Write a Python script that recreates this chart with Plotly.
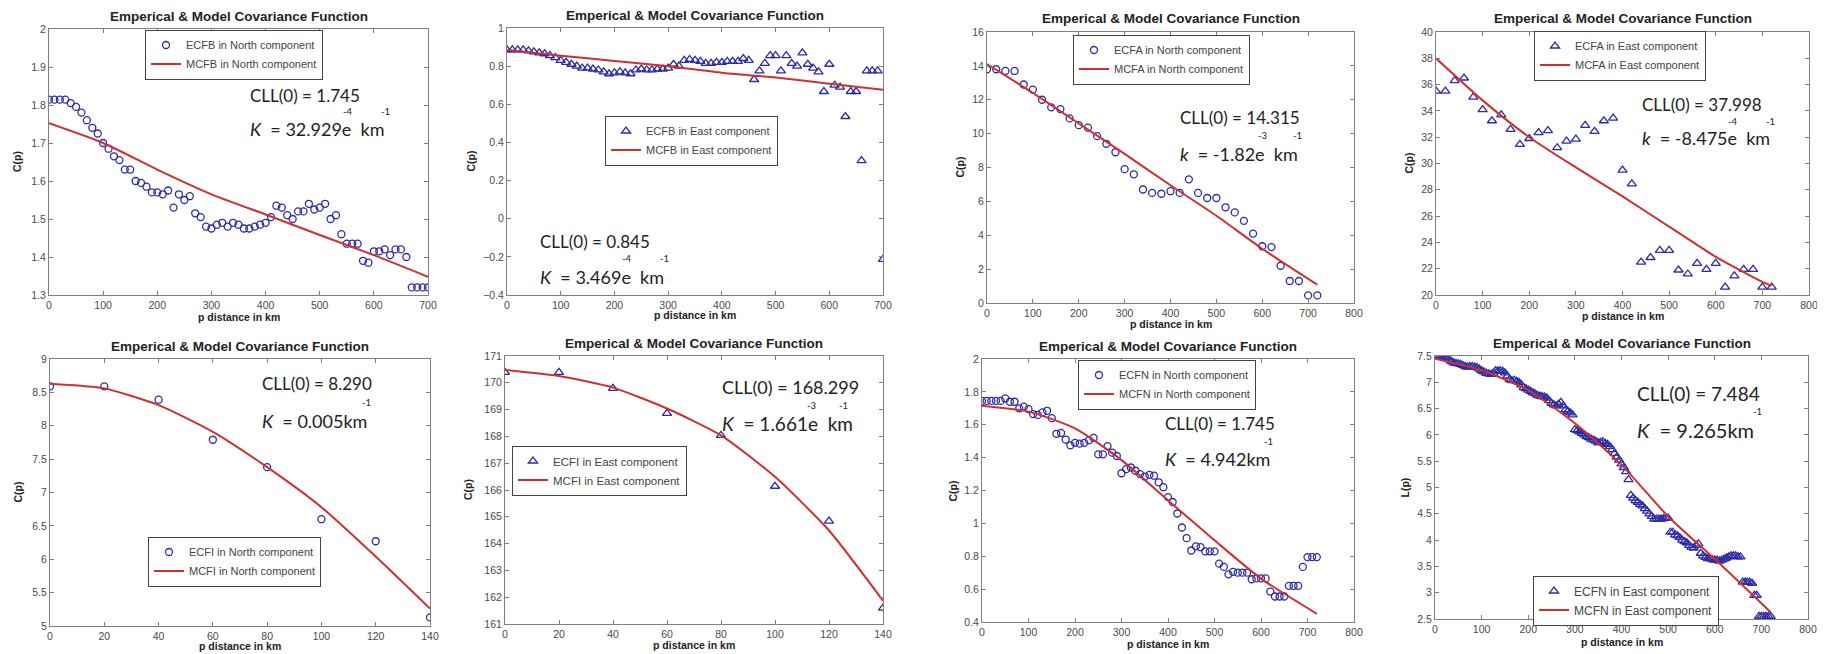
import plotly.graph_objects as go

# page body keeps its default 8px margin: the figure starts at (8, 8) and fills the rest of the view
REF_W, REF_H, BODY = 1825, 654, 8
W, H = REF_W - BODY, REF_H - BODY

# ---------------- data ----------------
# Panel 1: ECFB North
p1_x = list(range(0, 701, 10))
p1_emp = [1.814, 1.814, 1.814, 1.814, 1.805, 1.795, 1.78, 1.76, 1.74, 1.725,
          1.70, 1.685, 1.665, 1.655, 1.63, 1.63, 1.60, 1.595, 1.585, 1.57,
          1.57, 1.565, 1.575, 1.53, 1.565, 1.55, 1.56, 1.515, 1.505, 1.48,
          1.475, 1.485, 1.49, 1.48, 1.49, 1.485, 1.475, 1.475, 1.48, 1.485,
          1.49, 1.505, 1.535, 1.53, 1.51, 1.50, 1.52, 1.52, 1.54, 1.525,
          1.53, 1.54, 1.50, 1.51, 1.46, 1.435, 1.435, 1.435, 1.39, 1.385,
          1.415, 1.415, 1.42, 1.405, 1.42, 1.42, 1.40, 1.32, 1.32, 1.32, 1.32]
p1_mx = [0, 100, 200, 300, 400, 500, 600, 700]
p1_model = [1.752, 1.700, 1.630, 1.565, 1.512, 1.458, 1.405, 1.348]

# Panel 2: ECFB East
p2_x = list(range(0, 701, 10))
p2_emp = [0.885, 0.885, 0.885, 0.885, 0.88, 0.875, 0.87, 0.865, 0.855, 0.845,
          0.83, 0.82, 0.81, 0.80, 0.79, 0.79, 0.785, 0.78, 0.77, 0.76,
          0.765, 0.77, 0.765, 0.76, 0.78, 0.785, 0.78, 0.78, 0.785, 0.785,
          0.79, 0.81, 0.80, 0.83, 0.835, 0.83, 0.825, 0.815, 0.815, 0.82,
          0.82, 0.825, 0.825, 0.825, 0.84, 0.83, 0.73, 0.775, 0.815, 0.855,
          0.855, 0.775, 0.855, 0.815, 0.80, 0.87, 0.81, 0.79, 0.77, 0.667,
          0.81, 0.70, 0.69, 0.536, 0.667, 0.667, 0.305, 0.775, 0.775, 0.775, -0.213]
p2_mx = [0, 100, 200, 300, 400, 500, 600, 700]
p2_model = [0.885, 0.855, 0.827, 0.800, 0.765, 0.740, 0.708, 0.676]

# Panel 3: ECFA North
p3_x = list(range(0, 721, 20))
p3_emp = [13.8, 13.8, 13.7, 13.7, 12.9, 12.6, 12.0, 11.55, 11.45, 10.9,
          10.5, 10.35, 9.85, 9.4, 8.9, 7.9, 7.6, 6.7, 6.5, 6.45,
          6.6, 6.5, 7.3, 6.5, 6.2, 6.2, 5.65, 5.35, 4.85, 4.1,
          3.35, 3.3, 2.2, 1.3, 1.3, 0.45, 0.45]
p3_mx = [0, 100, 200, 300, 400, 500, 600, 720]
p3_model = [14.1, 12.4, 10.6, 8.8, 6.95, 5.15, 3.2, 1.08]

# Panel 4: ECFA East
p4_x = list(range(0, 721, 20))
p4_emp = [35.5, 35.5, 36.3, 36.5, 35.05, 34.1, 33.25, 33.7, 32.6, 31.45,
          31.9, 32.35, 32.5, 31.2, 31.7, 31.85, 32.9, 32.45, 33.25, 33.45,
          29.5, 28.45, 22.5, 22.85, 23.4, 23.4, 21.9, 21.6, 22.4, 21.95,
          22.4, 20.6, 21.45, 21.95, 21.95, 20.6, 20.6]
p4_mx = [0, 100, 200, 300, 400, 500, 600, 700, 720]
p4_model = [38.0, 34.8, 32.0, 29.7, 27.5, 25.2, 22.9, 21.0, 20.7]

# Panel 5: ECFI North
p5_x = [0, 20, 40, 60, 80, 100, 120, 140]
p5_emp = [8.59, 8.59, 8.39, 7.79, 7.38, 6.60, 6.27, 5.13]
p5_model = [8.63, 8.56, 8.31, 7.91, 7.38, 6.78, 6.04, 5.26]

# Panel 6: ECFI East
p6_x = [0, 20, 40, 60, 80, 100, 120, 140]
p6_emp = [170.39, 170.39, 169.79, 168.86, 168.04, 166.14, 164.84, 161.59]
p6_model = [170.48, 170.25, 169.82, 169.04, 168.04, 166.49, 164.49, 161.87]

# Panel 7: ECFN North
p7_x = list(range(0, 721, 10))
p7_emp = [1.745, 1.745, 1.745, 1.745, 1.745, 1.76, 1.74, 1.74, 1.70, 1.71,
          1.695, 1.665, 1.66, 1.675, 1.685, 1.64, 1.545, 1.55, 1.51, 1.475,
          1.49, 1.485, 1.49, 1.505, 1.52, 1.42, 1.42, 1.47, 1.43, 1.41,
          1.305, 1.33, 1.34, 1.32, 1.30, 1.285, 1.295, 1.29, 1.25, 1.22,
          1.16, 1.13, 1.06, 0.975, 0.91, 0.835, 0.86, 0.855, 0.83, 0.83,
          0.83, 0.755, 0.735, 0.69, 0.705, 0.70, 0.70, 0.70, 0.66, 0.665,
          0.665, 0.665, 0.585, 0.555, 0.555, 0.555, 0.62, 0.62, 0.62, 0.735,
          0.795, 0.795, 0.795]
p7_mx = [0, 100, 200, 300, 400, 500, 600, 720]
p7_model = [1.716, 1.68, 1.578, 1.385, 1.14, 0.897, 0.664, 0.45]

# Panel 8: ECFN East
p8_x = list(range(0, 721, 5))
p8_emp = [7.50, 7.50, 7.50, 7.49, 7.48, 7.46,
          7.43, 7.40, 7.37, 7.36, 7.35, 7.34,
          7.32, 7.30, 7.29, 7.30, 7.30, 7.29,
          7.28, 7.25, 7.22, 7.20, 7.17, 7.16,
          7.15, 7.17, 7.22, 7.22, 7.22, 7.21,
          7.18, 7.12, 7.05, 7.03, 7.04, 7.02,
          7.00, 6.95, 6.90, 6.88, 6.85, 6.83,
          6.80, 6.78, 6.75, 6.74, 6.73, 6.72,
          6.70, 6.65, 6.60, 6.57, 6.55, 6.58,
          6.62, 6.55, 6.48, 6.45, 6.42, 6.38,
          6.10, 6.08, 6.06, 6.03, 6.00, 5.97,
          5.95, 5.92, 5.90, 5.88, 5.85, 5.86,
          5.87, 5.84, 5.82, 5.78, 5.72, 5.65,
          5.58, 5.52, 5.45, 5.38, 5.30, 5.15,
          4.85, 4.80, 4.75, 4.72, 4.68, 4.65,
          4.60, 4.55, 4.50, 4.45, 4.40, 4.40,
          4.40, 4.40, 4.41, 4.42, 4.42, 4.15,
          4.15, 4.10, 4.08, 4.05, 4.00, 3.97,
          3.95, 3.90, 3.86, 3.85, 3.90, 3.93,
          3.75, 3.70, 3.67, 3.65, 3.65, 3.63,
          3.62, 3.62, 3.60, 3.62, 3.64, 3.66,
          3.68, 3.70, 3.70, 3.70, 3.68, 3.68,
          3.20, 3.20, 3.20, 3.20, 3.18, 2.95,
          2.95, 2.55, 2.55, 2.55, 2.55, 2.55,
          2.55]
p8_mx = [0, 100, 200, 300, 400, 500, 600, 720]
p8_model = [7.45, 7.23, 6.85, 6.22, 5.43, 4.45, 3.64, 2.63]

TITLE = "Emperical & Model Covariance Function"
XLABEL = "p distance in km"

# ---------------- panel layout (reference pixel boxes: left, right, top, bottom) ----------------
panels = [
    dict(box=(49, 428, 29, 295), x=p1_x, y=p1_emp, mx=p1_mx, my=p1_model, sym="circle-open",
         en="ECFB in North component", mn="MCFB in North component",
         xr=[0, 700], xd=100, yr=[1.3, 2.0], yd=0.1, ylab="C(p)", ylx=17, xly=317,
         leg=(145, 68), lfs=11,
         cll="CLL(0) = 1.745", cllpos=(248, 95), kt="<i>K</i>\u00a0 = 32.929e\u00a0 km", kpos=(248, 129),
         sups=[("-4", 348, 111), ("-1", 385, 111)], fs=18),
    dict(box=(507, 883, 28, 295), x=p2_x, y=p2_emp, mx=p2_mx, my=p2_model, sym="triangle-up-open",
         en="ECFB in East component", mn="MCFB in East component",
         xr=[0, 700], xd=100, yr=[-0.4, 1.0], yd=0.2, ylab="C(p)", ylx=471, xly=315,
         leg=(605, 154), lfs=11,
         cll="CLL(0) = 0.845", cllpos=(538, 242), kt="<i>K</i>\u00a0 = 3.469e\u00a0 km", kpos=(538, 277),
         sups=[("-4", 627, 258), ("-1", 664, 258)], fs=18),
    dict(box=(987, 1354, 32, 303), x=p3_x, y=p3_emp, mx=p3_mx, my=p3_model, sym="circle-open",
         en="ECFA in North component", mn="MCFA in North component",
         xr=[0, 800], xd=100, yr=[0, 16], yd=2, ylab="C(p)", ylx=960, xly=324,
         leg=(1073, 73), lfs=11,
         cll="CLL(0) = 14.315", cllpos=(1178, 118), kt="<i>k</i>\u00a0 = -1.82e\u00a0 km", kpos=(1178, 154),
         sups=[("-3", 1262, 135), ("-1", 1297, 135)], fs=18),
    dict(box=(1436, 1809, 32, 295), x=p4_x, y=p4_emp, mx=p4_mx, my=p4_model, sym="triangle-up-open",
         en="ECFA in East component", mn="MCFA in East component",
         xr=[0, 800], xd=100, yr=[20, 40], yd=2, ylab="C(p)", ylx=1408, xly=316,
         leg=(1534, 69), lfs=11,
         cll="CLL(0) = 37.998", cllpos=(1640, 105), kt="<i>k</i>\u00a0 = -8.475e\u00a0 km", kpos=(1640, 138),
         sups=[("-4", 1733, 121), ("-1", 1770, 121)], fs=18),
    dict(box=(50, 430, 359, 626), x=p5_x, y=p5_emp, mx=p5_x, my=p5_model, sym="circle-open",
         en="ECFI in North component", mn="MCFI in North component",
         xr=[0, 140], xd=20, yr=[5, 9], yd=0.5, ylab="C(p)", ylx=17, xly=646,
         leg=(148, 575), lfs=11,
         cll="CLL(0) = 8.290", cllpos=(260, 384), kt="<i>K</i>\u00a0 = 0.005km", kpos=(260, 421),
         sups=[("-1", 366, 402)], fs=18),
    dict(box=(505, 883, 356, 624), x=p6_x, y=p6_emp, mx=p6_x, my=p6_model, sym="triangle-up-open",
         en="ECFI in East component", mn="MCFI in East component",
         xr=[0, 140], xd=20, yr=[161, 171], yd=1, ylab="C(p)", ylx=468, xly=645,
         leg=(512, 484), lfs=11.5,
         cll="CLL(0) = 168.299", cllpos=(720, 387), kt="<i>K</i>\u00a0 = 1.661e\u00a0 km", kpos=(720, 423),
         sups=[("-3", 811, 405), ("-1", 843, 405)], fs=19),
    dict(box=(982, 1354, 359, 622), x=p7_x, y=p7_emp, mx=p7_mx, my=p7_model, sym="circle-open",
         en="ECFN in North component", mn="MCFN in North component",
         xr=[0, 800], xd=100, yr=[0.4, 2.0], yd=0.2, ylab="C(p)", ylx=952, xly=644,
         leg=(1078, 398), lfs=11,
         cll="CLL(0) = 1.745", cllpos=(1163, 423), kt="<i>K</i>\u00a0 = 4.942km", kpos=(1163, 459),
         sups=[("-1", 1268, 441)], fs=18),
    dict(box=(1435, 1808, 356, 619), x=p8_x, y=p8_emp, mx=p8_mx, my=p8_model, sym="triangle-up-open",
         en="ECFN in East component", mn="MCFN in East component",
         xr=[0, 800], xd=100, yr=[2.5, 7.5], yd=0.5, ylab="L(p)", ylx=1404, xly=642,
         leg=(1533, 614), lfs=12,
         cll="CLL(0) = 7.484", cllpos=(1635, 393), kt="<i>K</i>\u00a0 = 9.265km", kpos=(1635, 430),
         sups=[("-1", 1757, 411)], fs=20),
]

MARK = "#2b2ba6"
LINE = "rgb(206,48,48)"
AXC = "#808080"
LEG_H = 44  # approximate rendered legend height in px

fig = go.Figure()
layout = dict(width=W, height=H, margin=dict(l=0, r=0, t=0, b=0, autoexpand=False),
              paper_bgcolor="white", plot_bgcolor="white", annotations=[])


def px(xp):
    return (xp - BODY) / W


def py(yp):
    return 1 - (yp - BODY) / H


def ann(text, x, y, size, family="Arial", xanchor="center", angle=0, color="#222"):
    return dict(text=text, xref="paper", yref="paper", x=px(x), y=py(y), xanchor=xanchor,
                yanchor="middle", showarrow=False, textangle=angle,
                font=dict(family=family, size=size, color=color))


for i, p in enumerate(panels, start=1):
    sfx = "" if i == 1 else str(i)
    xa, ya = "x" + sfx, "y" + sfx
    lg = "legend" + sfx
    l, r, t, b = p["box"]
    fig.add_trace(go.Scatter(x=p["x"], y=p["y"], mode="markers", name=p["en"],
                             xaxis=xa, yaxis=ya, legend=lg,
                             marker=dict(symbol=p["sym"], size=7 if "circle" in p["sym"] else 8,
                                         color=MARK, line=dict(width=1.3, color=MARK))))
    fig.add_trace(go.Scatter(x=p["mx"], y=p["my"], mode="lines", name=p["mn"],
                             xaxis=xa, yaxis=ya, legend=lg,
                             line=dict(color=LINE, width=2, shape="spline", smoothing=0.6)))
    axcommon = dict(showline=True, mirror="ticks", linecolor=AXC, linewidth=1, automargin=False,
                    ticks="inside", ticklen=4, tickcolor=AXC, showgrid=False, zeroline=False,
                    tickfont=dict(family="Liberation Sans Narrow, Arial", size=10.5, color="#4a4a4a"))
    layout["xaxis" + sfx] = dict(domain=[max(0, px(l)), min(1, px(r))], anchor=ya, range=p["xr"],
                                 dtick=p["xd"], tick0=0, **axcommon)
    layout["yaxis" + sfx] = dict(domain=[max(0, py(b)), min(1, py(t))], anchor=xa, range=p["yr"],
                                 dtick=p["yd"], tick0=p["yr"][0], **axcommon)
    cy = p["leg"][1] - 33 / 2  # reference legend box centre
    layout[lg] = dict(x=px(p["leg"][0]), y=py(cy - LEG_H / 2), xanchor="left", yanchor="top",
                      bgcolor="white", bordercolor="#444", borderwidth=1,
                      font=dict(family="Arial", size=p["lfs"], color="#444"),
                      itemwidth=30, tracegroupgap=0)
    # panel title and axis labels
    layout["annotations"].append(ann("<b>" + TITLE + "</b>", (l + r) / 2, t - 13, 13.5))
    layout["annotations"].append(ann("<b>" + XLABEL + "</b>", (l + r) / 2, p["xly"], 10.5))
    layout["annotations"].append(ann("<b>" + p["ylab"] + "</b>", p["ylx"], (t + b) / 2, 10.5, angle=-90))
    # CLL / K text
    layout["annotations"].append(ann(p["cll"], p["cllpos"][0], p["cllpos"][1], p["fs"] - 1,
                                     family="Lato", xanchor="left"))
    layout["annotations"].append(ann(p["kt"], p["kpos"][0], p["kpos"][1], p["fs"],
                                     family="Lato", xanchor="left"))
    for s, sx, sy in p["sups"]:
        layout["annotations"].append(ann(s, sx, sy, 9.5, family="Lato"))

fig.update_layout(**layout)
fig.write_html("out.html")
